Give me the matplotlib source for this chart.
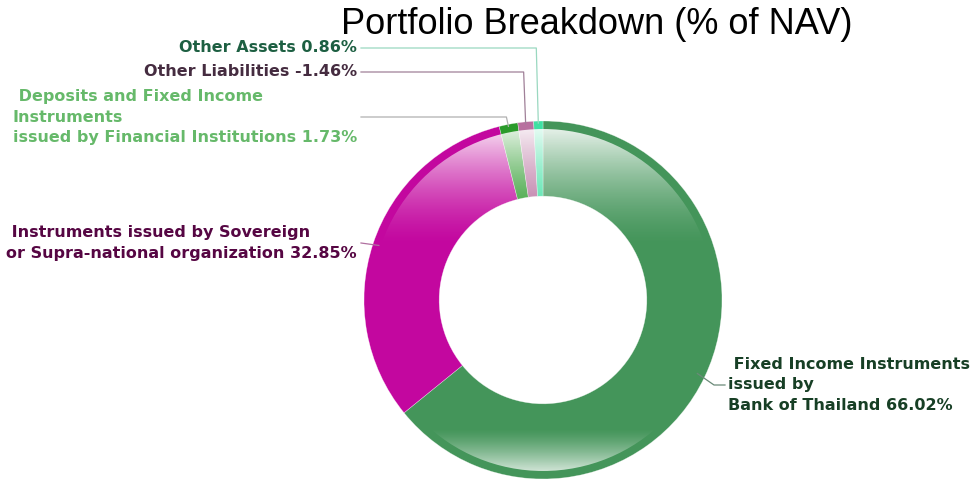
import numpy as np
import matplotlib.pyplot as plt
from matplotlib.patches import Circle

labels = [" Fixed Income Instruments\nissued by\nBank of Thailand 66.02%",
          " Instruments issued by Sovereign\nor Supra-national organization 32.85%",
          " Deposits and Fixed Income\nInstruments\nissued by Financial Institutions 1.73%",
          "Other Liabilities -1.46%",
          "Other Assets 0.86%"]
values = [66.02, 32.85, 1.73, -1.46, 0.86]
slice_colors = ["#44955a", "#c3079f", "#2a9a2a", "#b8709f", "#3ee0a2"]
text_colors = ["#173f25", "#560643", "#66b96a", "#452c40", "#1d5f42"]
line_colors = ["#6a8a78", "#b070a0", "#b0b0b0", "#a08098", "#9ad8c0"]

W, H = 971, 480
cx, cy, R = 543, 180, 179
fig = plt.figure(figsize=(W / 100, H / 100), dpi=100)
ax = fig.add_axes([0, 0, 1, 1])

sizes = np.abs(values)
wedges, _ = ax.pie(sizes, colors=slice_colors, startangle=90, counterclock=False,
                   radius=R, center=(cx, cy),
                   wedgeprops=dict(width=R * 0.42, linewidth=0.4, edgecolor="#ffffff80"))

# glossy white highlight on top and bottom of the ring
ys = np.linspace(1, -1, 400)
alpha = np.zeros_like(ys)
top = ys > 0.3
alpha[top] = 0.85 * ((ys[top] - 0.3) / 0.65).clip(0, 1) ** 1.5
bot = ys < -0.72
alpha[bot] = 0.72 * ((-ys[bot] - 0.72) / 0.23).clip(0, 1) ** 1.3
grad = np.ones((400, 2, 4))
grad[:, :, 3] = alpha[:, None]
img = ax.imshow(grad, extent=(cx - R, cx + R, cy - R, cy + R), aspect="auto",
                interpolation="bilinear", zorder=2)
img.set_clip_path(Circle((cx, cy), R - 8, transform=ax.transData))

# leader lines and labels
tx_right = 357
label_pos = [(728, 385, "left"), (tx_right, 243, "right"), (tx_right, 117, "right"),
             (tx_right, 72, "right"), (tx_right, 48, "right")]
font = dict(family="DejaVu Sans", weight="bold", fontsize=11.5)
for w, lab, tc, lc, (lx, ly, ha) in zip(wedges, labels, text_colors, line_colors, label_pos):
    ang = np.deg2rad((w.theta1 + w.theta2) / 2)
    ax_, ay_ = cx + R * np.cos(ang), cy + R * np.sin(ang)
    ly_d = H - ly
    if ha == "left":
        ix, iy = cx + (R - 8) * np.cos(ang), cy + (R - 8) * np.sin(ang)
        xs = [ix, lx - 14, lx - 3]
        yv = [iy, ly_d, ly_d]
    elif ly > 200:
        ix, iy = cx + (R - 6) * np.cos(ang), cy + (R - 6) * np.sin(ang)
        xs = [lx + 4, ix]
        yv = [ly_d, iy]
    else:
        xs = [lx + 4, ax_ - 2, ax_]
        yv = [ly_d, ly_d, ay_ - 2]
    ax.plot(xs, yv, color=lc, lw=0.9, zorder=3)
    ax.text(lx, ly_d, lab, color=tc, ha=ha, va="center", multialignment="left",
            linespacing=1.42, zorder=4, **font)

ax.text(597, H - 25, "Portfolio Breakdown (% of NAV)", fontsize=26,
        family="Liberation Sans", ha="center", va="center", color="black")

ax.set_xlim(0, W)
ax.set_ylim(0, H)
ax.set_aspect("auto")
ax.axis("off")
fig.savefig("out.png", dpi=100)
